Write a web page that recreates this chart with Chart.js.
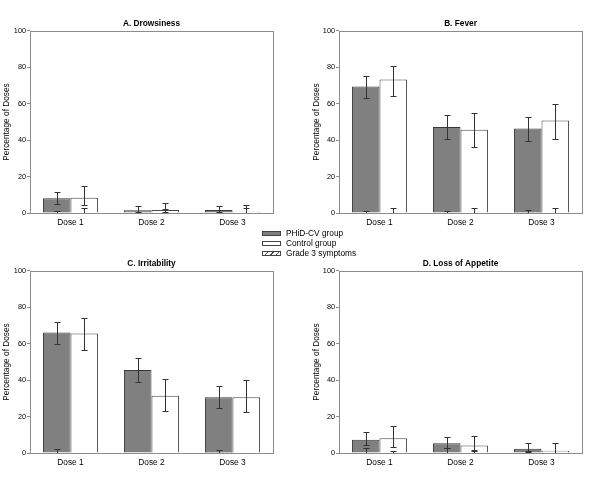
<!DOCTYPE html>
<html>
<head>
<meta charset="utf-8">
<script src="https://cdn.jsdelivr.net/npm/chart.js@4.4.1/dist/chart.umd.min.js"></script>
<style>
  body { margin: 0; background: #fff; }
  #wrap { position: relative; width: 600px; height: 497px; font-family: 'Liberation Sans', Arial, sans-serif; }
  canvas { position: absolute; }
  #legend { position: absolute; left: 262px; top: 228px; font-size: 8.3px; color: #000; z-index: 2; }
  .row { display: flex; align-items: center; height: 10px; }
  .sw { width: 19px; height: 5px; border: 1px solid #444; box-sizing: border-box; margin-right: 5px; }
</style>
</head>
<body>
<div id="wrap">
  <canvas id="chartA" width="300" height="240" style="left:0;top:0"></canvas>
  <canvas id="chartB" width="300" height="240" style="left:300px;top:0"></canvas>
  <canvas id="chartC" width="300" height="240" style="left:0;top:240px"></canvas>
  <canvas id="chartD" width="300" height="240" style="left:300px;top:240px"></canvas>
  <div id="legend">
    <div class="row"><span class="sw" style="background:#808080"></span>PHiD-CV group</div>
    <div class="row"><span class="sw" style="background:#fff"></span>Control group</div>
    <div class="row"><span class="sw" style="background:repeating-linear-gradient(135deg,#fff 0 3px,#555 3px 4px)"></span>Grade 3 symptoms</div>
  </div>
</div>
<script>
const doses = ['Dose 1', 'Dose 2', 'Dose 3'];
const yTicks = [0, 20, 40, 60, 80, 100];

// A. Drowsiness
const drowsyPhid = [8.1, 1.5, 1.6];
const drowsyPhidLo = [4.8, 0.4, 0.4];
const drowsyPhidHi = [11.7, 4.0, 4.0];
const drowsyCtrl = [8.4, 1.6, 0.7];
const drowsyCtrlLo = [4.4, 0.4, 0];
const drowsyCtrlHi = [14.8, 5.7, 4.6];
const drowsyPhidG3 = [0.2, 0, 0];
const drowsyPhidG3Hi = [1.1, null, null];
const drowsyCtrlG3 = [0, 0, 0];
const drowsyCtrlG3Hi = [2.9, 2.2, 2.7];

// B. Fever
const feverPhid = [69.5, 47.3, 46.4];
const feverPhidLo = [63.4, 40.8, 39.8];
const feverPhidHi = [75.3, 53.9, 52.8];
const feverCtrl = [73.3, 45.8, 50.8];
const feverCtrlLo = [64.5, 36.4, 40.9];
const feverCtrlHi = [81.0, 55.2, 60.1];
const feverPhidG3 = [0.3, 0.3, 0.5];
const feverPhidG3Hi = [1.2, 1.2, 1.9];
const feverCtrlG3 = [0, 0, 0];
const feverCtrlG3Hi = [2.6, 2.6, 2.6];

// C. Irritability
const irritPhid = [66.2, 45.6, 30.6];
const irritPhidLo = [59.8, 39.2, 24.7];
const irritPhidHi = [72.0, 52.1, 37.0];
const irritCtrl = [65.7, 31.4, 30.6];
const irritCtrlLo = [56.5, 22.8, 22.7];
const irritCtrlHi = [74.0, 40.6, 40.1];
const irritPhidG3 = [0.3, 0, 0.5];
const irritPhidG3Hi = [2.0, null, 1.6];
const irritCtrlG3 = [0, 0, 0];
const irritCtrlG3Hi = [null, null, null];

// D. Loss of Appetite
const appetitePhid = [7.3, 5.3, 2.4];
const appetitePhidLo = [4.6, 2.6, 0.7];
const appetitePhidHi = [11.7, 8.9, 5.7];
const appetiteCtrl = [8.1, 4.1, 1.3];
const appetiteCtrlLo = [3.5, 1.8, 0];
const appetiteCtrlHi = [14.7, 9.3, 5.7];
const appetitePhidG3 = [0.3, 0.3, 0.3];
const appetitePhidG3Hi = [2.7, 2.6, 1.0];
const appetiteCtrlG3 = [0, 0.3, 0];
const appetiteCtrlG3Hi = [0.9, 0.9, null];

const FONT = "'Liberation Sans', Arial, sans-serif";

function hatchPattern() {
    const c = document.createElement('canvas');
    c.width = 5;
    c.height = 5;
    const g = c.getContext('2d');
    g.fillStyle = '#fff';
    g.fillRect(0, 0, 5, 5);
    g.strokeStyle = '#555';
    g.lineWidth = 1;
    g.beginPath();
    g.moveTo(0, 5);
    g.lineTo(5, 0);
    g.stroke();
    return g.createPattern(c, 'repeat');
}

// frame round the plot area
const framePlugin = {
    id: 'frame',
    afterDraw(chart) {
        const { ctx, chartArea: a } = chart;
        ctx.save();
        ctx.strokeStyle = '#8c8c8c';
        ctx.lineWidth = 1;
        ctx.strokeRect(Math.round(a.left) + 0.5, Math.round(a.top) + 0.5, Math.round(a.right - a.left), Math.round(a.bottom - a.top));
        ctx.restore();
    }
};

// error bars from errLo / errHi kept on each dataset
const errorBarPlugin = {
    id: 'errorBars',
    afterDatasetsDraw(chart) {
        const ctx = chart.ctx;
        const y = chart.scales.y;
        ctx.save();
        ctx.strokeStyle = '#333';
        ctx.lineWidth = 1;
        chart.data.datasets.forEach((ds, di) => {
            const meta = chart.getDatasetMeta(di);
            meta.data.forEach((bar, i) => {
                const hi = ds.errHi[i];
                if (hi === null) return;
                const lo = ds.errLo ? ds.errLo[i] : 0;
                const x = Math.round(bar.x) + 0.5;
                const yHi = Math.round(y.getPixelForValue(hi)) + 0.5;
                const yLo = Math.round(y.getPixelForValue(lo)) + 0.5;
                ctx.beginPath();
                ctx.moveTo(x, yHi);
                ctx.lineTo(x, yLo);
                ctx.moveTo(x - 3, yHi);
                ctx.lineTo(x + 3, yHi);
                if (ds.errLo) {
                    ctx.moveTo(x - 3, yLo);
                    ctx.lineTo(x + 3, yLo);
                }
                ctx.stroke();
            });
        });
        ctx.restore();
    }
};

function makePanel(id, title, padLeft, yWidth, s) {
    const hatch = hatchPattern();
    const base = { borderWidth: 1, categoryPercentage: 0.68, barPercentage: 1.0 };
    new Chart(document.getElementById(id), {
        type: 'bar',
        data: {
            labels: doses,
            datasets: [
                { ...base, label: 'PHiD-CV group', data: s.phid, errLo: s.phidLo, errHi: s.phidHi, backgroundColor: '#808080', borderColor: '#3a3a3a', stack: 'phid', order: 2 },
                { ...base, label: 'Control group', data: s.ctrl, errLo: s.ctrlLo, errHi: s.ctrlHi, backgroundColor: '#ffffff', borderColor: '#4a4a4a', stack: 'ctrl', order: 2 },
                { ...base, label: 'Grade 3 symptoms', data: s.phidG3, errLo: null, errHi: s.phidG3Hi, backgroundColor: hatch, borderColor: '#222', stack: 'phid', order: 1 },
                { ...base, label: 'Grade 3 symptoms', data: s.ctrlG3, errLo: null, errHi: s.ctrlG3Hi, backgroundColor: hatch, borderColor: '#222', stack: 'ctrl', order: 1 }
            ]
        },
        options: {
            responsive: false,
            animation: false,
            devicePixelRatio: 1,
            layout: { padding: { left: padLeft, right: 300 - padLeft - yWidth - 243, top: 0, bottom: 0 } },
            plugins: {
                legend: { display: false },
                tooltip: { enabled: false },
                title: {
                    display: true,
                    text: title,
                    fullSize: false,
                    color: '#000',
                    font: { family: FONT, size: 8.3, weight: 'bold' },
                    padding: { top: 19, bottom: 2 }
                }
            },
            scales: {
                x: {
                    offset: true,
                    grid: { display: false, drawTicks: false },
                    border: { display: false },
                    ticks: { color: '#000', font: { family: FONT, size: 8.3 }, padding: 5 },
                    afterFit: sc => { sc.height = 27; }
                },
                y: {
                    min: 0,
                    max: 100,
                    stacked: false,
                    afterBuildTicks: sc => { sc.ticks = yTicks.map(v => ({ value: v })); },
                    grid: { display: true, drawOnChartArea: false, drawTicks: true, tickLength: 3, color: '#8c8c8c' },
                    border: { display: false },
                    ticks: { color: '#000', font: { family: FONT, size: 7.3 }, padding: 1 },
                    title: { display: true, text: 'Percentage of Doses', color: '#000', font: { family: FONT, size: 8.3 }, padding: { top: 2, bottom: 0 } },
                    afterFit: sc => { sc.width = yWidth; }
                }
            }
        },
        plugins: [errorBarPlugin, framePlugin]
    });
}

makePanel('chartA', 'A. Drowsiness', 0, 30, {
    phid: drowsyPhid, phidLo: drowsyPhidLo, phidHi: drowsyPhidHi,
    ctrl: drowsyCtrl, ctrlLo: drowsyCtrlLo, ctrlHi: drowsyCtrlHi,
    phidG3: drowsyPhidG3, phidG3Hi: drowsyPhidG3Hi, ctrlG3: drowsyCtrlG3, ctrlG3Hi: drowsyCtrlG3Hi
});
makePanel('chartB', 'B. Fever', 10, 29, {
    phid: feverPhid, phidLo: feverPhidLo, phidHi: feverPhidHi,
    ctrl: feverCtrl, ctrlLo: feverCtrlLo, ctrlHi: feverCtrlHi,
    phidG3: feverPhidG3, phidG3Hi: feverPhidG3Hi, ctrlG3: feverCtrlG3, ctrlG3Hi: feverCtrlG3Hi
});
makePanel('chartC', 'C. Irritability', 0, 30, {
    phid: irritPhid, phidLo: irritPhidLo, phidHi: irritPhidHi,
    ctrl: irritCtrl, ctrlLo: irritCtrlLo, ctrlHi: irritCtrlHi,
    phidG3: irritPhidG3, phidG3Hi: irritPhidG3Hi, ctrlG3: irritCtrlG3, ctrlG3Hi: irritCtrlG3Hi
});
makePanel('chartD', 'D. Loss of Appetite', 10, 29, {
    phid: appetitePhid, phidLo: appetitePhidLo, phidHi: appetitePhidHi,
    ctrl: appetiteCtrl, ctrlLo: appetiteCtrlLo, ctrlHi: appetiteCtrlHi,
    phidG3: appetitePhidG3, phidG3Hi: appetitePhidG3Hi, ctrlG3: appetiteCtrlG3, ctrlG3Hi: appetiteCtrlG3Hi
});
</script>
</body>
</html>
